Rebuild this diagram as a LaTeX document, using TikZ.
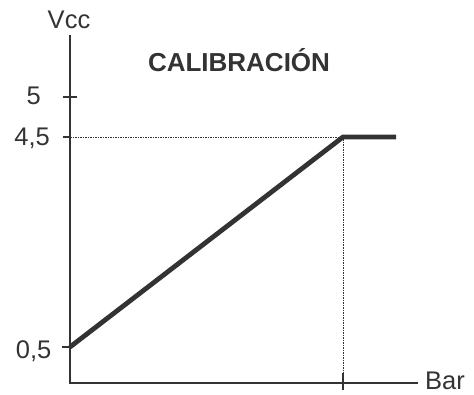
\documentclass[tikz,border=0pt]{standalone}
\usepackage{fontspec}
\setmainfont{Liberation Sans}
\definecolor{ink}{HTML}{333333}
\begin{document}
\begin{tikzpicture}[x=1pt,y=1pt,
  axis/.style={draw=ink,line width=2.8pt},
  tickmark/.style={draw=ink,line width=1.2pt},
  guide/.style={draw=ink,line width=0.8pt,dash pattern=on 1.5pt off 1pt},
  curve/.style={draw=ink,line width=4.8pt},
  lbl/.style={text=ink,font=\fontsize{25.5}{30}\selectfont,inner sep=0pt,anchor=base}]
\useasboundingbox (0,0) rectangle (474,394);
\coordinate (top) at (70,359);
\coordinate (origin) at (70,11);
\coordinate (xend) at (418,11);
\coordinate (p0) at (70,47);
\coordinate (p1) at (343,257);
\coordinate (p2) at (396,257);
\coordinate (xt) at (343,11);
% guides
\draw[guide] (70,257) -- (p1);
\draw[guide] (p1) -- (343,21);
% ticks
\draw[tickmark] (63,297) -- (77,297);
\draw[tickmark] (63,257) -- (70,257);
\draw[tickmark] (62,47) -- (70,47);
\draw[tickmark] (343,21) -- (343,4);
% axes
\draw[axis] (top) -- (origin) -- (xend);
% curve
\draw[curve,line join=miter] (p0) -- (p1) -- (p2);
% labels
\node[lbl] (vcc) at (69,365) {Vcc};
\node[lbl,anchor=base east] (l5) at (41,289) {5};
\node[lbl,anchor=base east] (l45) at (50,248) {4,5};
\node[lbl,anchor=base east] (l05) at (51.5,36) {0,5};
\node[lbl,anchor=base west] (bar) at (425,4.5) {Bar};
\node[lbl,font=\fontsize{26}{30}\selectfont\bfseries] (title) at (239,322) {CALIBRACIÓN};
\end{tikzpicture}
\end{document}
